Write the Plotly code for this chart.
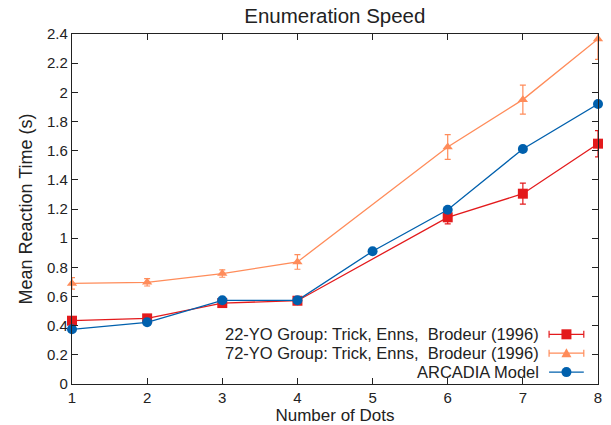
import plotly.graph_objects as go

# ---- data ----
dots_exp = [1, 2, 3, 4, 6, 7, 8]
rt_22 = [0.434, 0.450, 0.555, 0.571, 1.143, 1.305, 1.648]
err_22 = [0.012, 0.012, 0.012, 0.012, 0.045, 0.072, 0.090]
rt_72 = [0.690, 0.697, 0.757, 0.837, 1.625, 1.950, 2.366]
err_72 = [0.040, 0.025, 0.025, 0.050, 0.085, 0.100, 0.140]
dots_model = [1, 2, 3, 4, 5, 6, 7, 8]
rt_model = [0.375, 0.423, 0.574, 0.574, 0.910, 1.195, 1.612, 1.920]

names = ["22-YO Group: Trick, Enns,  Brodeur (1996)",
         "72-YO Group: Trick, Enns,  Brodeur (1996)",
         "ARCADIA Model"]
colors = ["#e31a1c", "#ff8c5a", "#0060ad"]
symbols = ["square", "triangle-up", "circle"]

FONT = "Liberation Sans, Arial, sans-serif"

fig = go.Figure()
fig.add_trace(go.Scatter(x=dots_exp, y=rt_22, mode="lines+markers", name=names[0],
                         line=dict(color=colors[0], width=1.3),
                         marker=dict(symbol="square", size=10, color=colors[0]),
                         error_y=dict(type="data", array=err_22, color=colors[0], thickness=1.2, width=3),
                         cliponaxis=False, showlegend=False))
fig.add_trace(go.Scatter(x=dots_exp, y=rt_72, mode="lines+markers", name=names[1],
                         line=dict(color=colors[1], width=1.3),
                         marker=dict(symbol="triangle-up", size=9, color=colors[1]),
                         error_y=dict(type="data", array=err_72, color=colors[1], thickness=1.2, width=3),
                         cliponaxis=False, showlegend=False))
fig.add_trace(go.Scatter(x=dots_model, y=rt_model, mode="lines+markers", name=names[2],
                         line=dict(color=colors[2], width=1.3),
                         marker=dict(symbol="circle", size=10, color=colors[2]),
                         cliponaxis=False, showlegend=False))

# ---- custom legend (text right-aligned, sample on the right) ----
row_y = [0.142, 0.088, 0.034]
sx0, sx1, sxc = 0.907, 0.973, 0.940
shapes = []
annotations = []
for i in range(3):
    y = row_y[i]
    c = colors[i]
    annotations.append(dict(x=0.892, y=y, xref="paper", yref="paper", text=names[i],
                            showarrow=False, xanchor="right", yanchor="middle",
                            font=dict(family=FONT, size=16.5, color="#222")))
    shapes.append(dict(type="line", xref="paper", yref="paper", x0=sx0, x1=sx1, y0=y, y1=y,
                       line=dict(color=c, width=1.3)))
    if i < 2:
        for xe in (sx0, sx1):
            shapes.append(dict(type="line", xref="paper", yref="paper", ysizemode="pixel",
                               yanchor=y, x0=xe, x1=xe, y0=-3.5, y1=3.5,
                               line=dict(color=c, width=1.2)))
    if symbols[i] == "square":
        shapes.append(dict(type="rect", xref="paper", yref="paper", xsizemode="pixel",
                           ysizemode="pixel", xanchor=sxc, yanchor=y, x0=-5, x1=5, y0=-5, y1=5,
                           fillcolor=c, line=dict(width=0)))
    elif symbols[i] == "circle":
        shapes.append(dict(type="circle", xref="paper", yref="paper", xsizemode="pixel",
                           ysizemode="pixel", xanchor=sxc, yanchor=y, x0=-5, x1=5, y0=-5, y1=5,
                           fillcolor=c, line=dict(width=0)))
    else:
        shapes.append(dict(type="path", xref="paper", yref="paper", xsizemode="pixel",
                           ysizemode="pixel", xanchor=sxc, yanchor=y,
                           path="M -5 -4 L 5 -4 L 0 5 Z", fillcolor=c, line=dict(width=0)))

axis_common = dict(showgrid=False, zeroline=False, showline=True, linecolor="#222",
                   linewidth=1.3, mirror="ticks", ticks="inside", ticklen=6,
                   tickcolor="#222", tickwidth=1, automargin=False,
                   tickfont=dict(family=FONT, size=15, color="#222"))

fig.update_layout(
    width=611, height=425,
    margin=dict(l=72, r=13, t=34, b=41),
    paper_bgcolor="white", plot_bgcolor="white",
    title=dict(text="Enumeration Speed", x=0.548, xanchor="center", y=0.962, yanchor="middle",
               font=dict(family=FONT, size=20.5, color="#222")),
    xaxis=dict(range=[1, 8], dtick=1, tick0=1,
               title=dict(text="Number of Dots", standoff=1,
                          font=dict(family=FONT, size=17, color="#222")),
               **axis_common),
    yaxis=dict(range=[0, 2.4], dtick=0.2, tick0=0,
               title=dict(text="Mean Reaction Time (s)", standoff=9,
                          font=dict(family=FONT, size=18, color="#222")),
               **axis_common),
    shapes=shapes, annotations=annotations,
    showlegend=False,
)

fig.write_html("out.html", config={"displayModeBar": False},
               post_script="document.body.style.margin='0px';")
